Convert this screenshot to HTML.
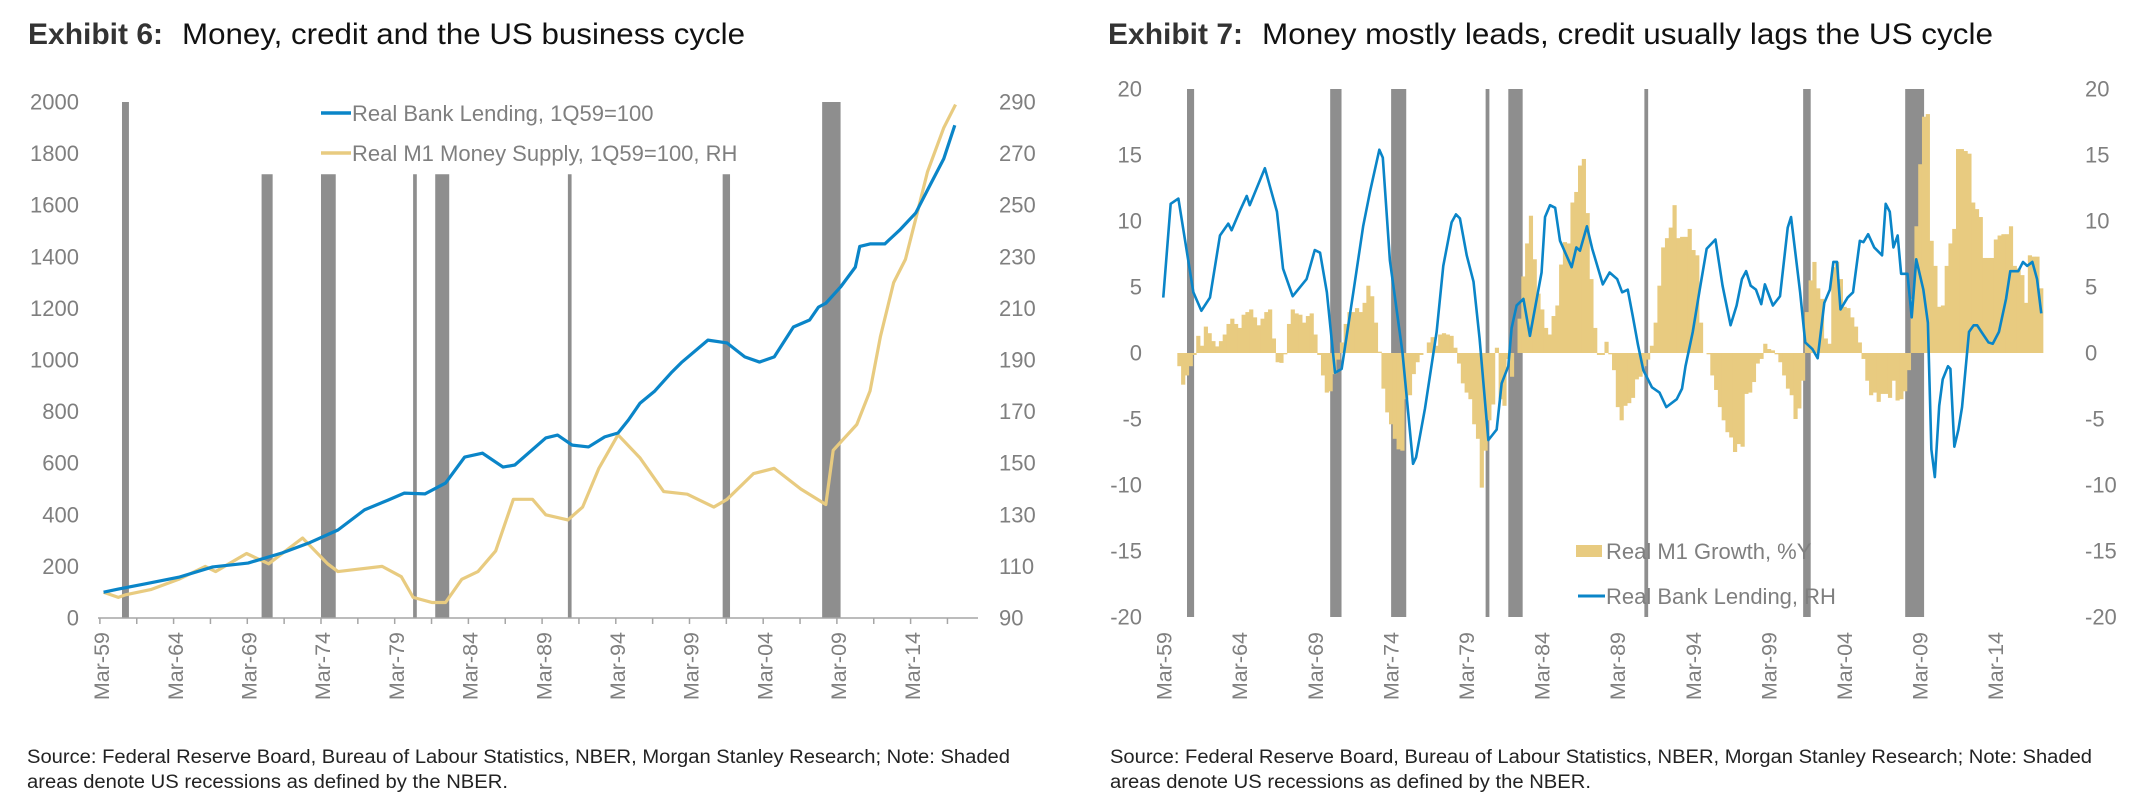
<!DOCTYPE html>
<html><head><meta charset="utf-8"><style>
html,body{margin:0;padding:0;background:#fff;}
svg{display:block;font-family:"Liberation Sans",sans-serif;}
.tk{fill:#7f7f7f;font-size:22px;}
.xl{fill:#7f7f7f;font-size:21.5px;}
.lg{fill:#7f7f7f;font-size:22px;}
.src{fill:#222;font-size:19px;}
</style></head><body>
<svg id="root" width="2132" height="806" viewBox="0 0 2132 806">
<g>
<text x="28" y="44" font-size="30" font-weight="bold" fill="#333" textLength="135" lengthAdjust="spacingAndGlyphs">Exhibit 6:</text>
<text x="182" y="44" font-size="30" fill="#111" textLength="563" lengthAdjust="spacingAndGlyphs">Money, credit and the US business cycle</text>
</g>
<g>
<text x="1108" y="44" font-size="30" font-weight="bold" fill="#333" textLength="135" lengthAdjust="spacingAndGlyphs">Exhibit 7:</text>
<text x="1262" y="44" font-size="30" fill="#111" textLength="731" lengthAdjust="spacingAndGlyphs">Money mostly leads, credit usually lags the US cycle</text>
</g>
<g id="c1"></g>
<g id="c2"></g>
<g>
<text class="src" x="27" y="763" textLength="983" lengthAdjust="spacingAndGlyphs">Source: Federal Reserve Board, Bureau of Labour Statistics, NBER, Morgan Stanley Research; Note: Shaded</text>
<text class="src" x="27" y="788" textLength="481" lengthAdjust="spacingAndGlyphs">areas denote US recessions as defined by the NBER.</text>
</g>
<g>
<text class="src" x="1110" y="763" textLength="982" lengthAdjust="spacingAndGlyphs">Source: Federal Reserve Board, Bureau of Labour Statistics, NBER, Morgan Stanley Research; Note: Shaded</text>
<text class="src" x="1110" y="788" textLength="481" lengthAdjust="spacingAndGlyphs">areas denote US recessions as defined by the NBER.</text>
</g>
</svg>
<script>
// ---- shared data ----
const recStart = [1960.25,1969.72,1973.75,1980.0,1981.5,1990.5,2001.0,2007.75];
const recEnd   = [1960.72,1970.47,1974.75,1980.25,1982.45,1990.75,2001.5,2009.0];
const rec1Top  = [2000,1720,1720,1720,1720,1720,1720,2000];
const xLabels  = ["Mar-59","Mar-64","Mar-69","Mar-74","Mar-79","Mar-84","Mar-89","Mar-94","Mar-99","Mar-04","Mar-09","Mar-14"];
const xLabelYears = [1959,1964,1969,1974,1979,1984,1989,1994,1999,2004,2009,2014];
// ---- chart 1 data ----
const lendYears = [1959,1960,1961.8,1964.1,1966.4,1968.8,1971.1,1972.9,1974.9,1976.7,1978.3,1979.4,1980.8,1982.2,1983.5,1984.7,1986.1,1986.9,1989,1989.8,1990.8,1991.9,1993,1993.9,1994.6,1995.4,1996.4,1997.5,1998.2,2000,2001.3,2002.5,2003.5,2004.5,2005.8,2006.9,2007.5,2008,2009,2010,2010.3,2011,2012,2013,2014.1,2015,2016,2016.75];
const lendVals  = [100,112,132,158,198,213,252,290,341,419,457,484,481,523,624,639,585,593,698,709,670,663,702,717,767,833,880,950,990,1077,1066,1012,992,1012,1128,1155,1205,1220,1283,1360,1440,1450,1450,1503,1570,1670,1780,1910];
const m1Years = [1959,1960,1960.5,1962.2,1964.1,1965.9,1966.6,1968.7,1970.2,1972.5,1974.2,1974.9,1977.9,1979.2,1980,1981.3,1982.2,1983.3,1984.4,1985.6,1986.8,1988.1,1989,1990.5,1991.5,1992.6,1993.9,1995.4,1997,1998.6,2000.4,2001.3,2003.1,2004.5,2006.3,2008,2008.5,2010.1,2011,2011.7,2012.6,2013.4,2014.2,2014.9,2016,2016.8];
const m1Vals  = [100,98,99,101,105,110,108,115,111,121,111,108,110,106,98,96,96,105,108,116,136,136,130,128,133,148,161,152,139,138,133,136,146,148,140,134,155,165,178,199,220,229,247,263,280,289];
const leftTicks1 = [0,200,400,600,800,1000,1200,1400,1600,1800,2000];
const rightTicks1 = [90,110,130,150,170,190,210,230,250,270,290];
// ---- chart 2 data ----
const growthStart = 1959.61;
const growthVals = [-1.0,-2.4,-1.7,-1.0,-0.15,1.3,0.55,2.0,1.5,0.9,0.5,0.9,1.4,2.2,2.6,2.2,1.9,2.9,3.1,3.3,2.7,2.1,2.6,3.1,3.3,1.1,-0.7,-0.75,-0.1,2.2,3.3,3.0,2.9,2.3,2.8,3.0,1.4,-0.15,-1.7,-3.0,-2.9,-1.6,-0.5,0.8,2.2,3.1,3.1,3.4,3.1,3.8,5.1,4.3,2.3,0.1,-2.7,-4.5,-5.4,-6.5,-7.3,-7.4,-3.5,-3.2,-1.6,-0.7,-0.15,0,0.8,1.2,0.55,1.4,1.5,1.4,1.3,0.4,-0.8,-2.3,-3.0,-3.5,-5.4,-6.5,-10.2,-7.4,-5.1,-3.9,0.4,-3.5,-4.0,-0.45,-1.8,0,2.6,5.8,8.3,10.4,7.1,4.5,3.3,1.9,1.4,2.8,3.6,6.7,8.4,8.3,11.4,12.2,14.2,14.7,10.6,5.6,1.9,
-0.15,-0.15,0.85,-0.1,-1.3,-4.1,-5.1,-4.0,-3.8,-3.4,-2.0,-1.8,-1.0,-0.5,0.55,2.3,5.1,8.0,8.7,9.5,11.2,8.7,8.8,8.8,9.4,7.8,7.4,2.3,0,-0.1,-1.7,-2.8,-4.1,-5.1,-6.0,-6.4,-7.5,-6.9,-7.1,-3.1,-3.0,-2.2,-0.8,-0.45,0.7,0.3,0.2,-0.1,-0.7,-1.7,-2.7,-3.2,-5.0,-4.2,-2.1,3.1,5.5,6.9,4.9,4.1,1.1,0.7,6.5,6.9,5.6,3.5,3.4,2.7,2.0,0.8,-0.45,-2.1,-3.2,-3.0,-3.7,-3.1,-3.1,-3.4,-2.1,-3.6,-3.5,-2.9,-1.3,4.1,9.6,14.3,17.9,18.1,8.5,6.6,3.5,3.6,6.6,8.3,9.4,15.45,15.45,15.3,15.1,11.4,10.9,10.3,7.2,7.2,7.2,8.6,8.9,9.0,9.0,9.6,6.6,6.4,5.9,3.8,7.4,7.3,7.3,4.9];
const bankYears = [1958.68,1959.17,1959.68,1960.67,1961.2,1961.77,1962.43,1962.98,1963.2,1963.76,1964.2,1964.4,1965.4,1966.2,1966.6,1967.24,1968.16,1968.7,1969.05,1969.5,1970.04,1970.48,1971.25,1971.9,1972.35,1972.97,1973.2,1973.67,1974.5,1975.2,1975.4,1975.99,1976.76,1977.2,1977.75,1978.04,1978.3,1978.75,1979.2,1979.6,1980.18,1980.73,1981.06,1981.5,1981.72,1982.05,1982.5,1982.93,1983.7,1983.93,1984.26,1984.6,1984.92,1985.69,1986.0,
1986.24,1986.7,1987.05,1987.75,1988.2,1988.7,1989.03,1989.4,1989.73,1990.08,1990.43,1991.0,1991.5,1991.95,1992.64,1992.99,1993.22,1993.7,1994.16,1994.62,1995.2,1995.67,1996.2,1996.6,1996.95,1997.23,1997.53,1997.88,1998.23,1998.47,1999.0,1999.47,1999.98,2000.2,2000.8,2001.14,2001.61,2001.96,2002.4,2002.77,2003.0,2003.24,2003.47,2003.94,2004.3,2004.75,2004.99,2005.3,2005.7,2006.22,2006.46,2006.73,2006.97,2007.25,2007.48,2007.9,2008.18,2008.48,2008.95,2009.25,2009.48,2009.71,2010.0,2010.23,2010.58,2010.74,2011.0,2011.27,2011.51,2011.97,2012.28,2012.51,2012.79,2013.26,2013.54,2013.95,2014.42,2014.7,2015.23,2015.54,2015.82,2016.16,2016.47,2016.75];
const bankVals = [4.2,11.3,11.7,4.6,3.2,4.2,8.9,9.8,9.3,10.8,11.9,11.2,14.0,10.7,6.4,4.3,5.6,7.8,7.6,4.6,-1.5,-1.2,4.6,9.6,12.2,15.4,14.8,7.0,0.05,-8.4,-7.9,-4.2,1.6,6.6,9.9,10.5,10.2,7.4,5.4,1.1,-6.6,-5.8,-2.3,-1.0,1.9,3.6,4.1,1.3,6.1,10.3,11.2,11.0,8.5,6.5,8.0,
7.75,9.6,7.9,5.2,6.1,5.6,4.6,4.8,2.8,0.6,-1.3,-2.6,-3.0,-4.1,-3.5,-2.7,-1.0,1.6,4.8,7.9,8.6,5.1,2.1,3.6,5.6,6.2,5.1,4.8,3.7,5.2,3.6,4.3,9.5,10.3,4.6,0.8,0.3,-0.4,3.8,4.8,6.9,6.9,3.3,4.2,4.6,8.5,8.4,9.0,8.0,7.4,11.3,10.7,8.0,8.9,6.0,6.0,2.7,7.1,4.8,2.3,-7.3,-9.4,-4.0,-2.0,-1.0,-1.2,-7.1,-5.8,-4.1,1.6,2.1,2.1,1.6,0.8,0.7,1.6,4.1,6.2,6.2,6.9,6.6,6.9,5.6,3.0];
const ticks2 = [20,15,10,5,0,-5,-10,-15,-20];

const NS="http://www.w3.org/2000/svg";
function mk(parent,tag,attrs,text){const e=document.createElementNS(NS,tag);for(const k in attrs)e.setAttribute(k,attrs[k]);if(text!==undefined)e.textContent=text;parent.appendChild(e);return e;}

// ---------- Chart 1 ----------
const c1=document.getElementById('c1');
const x1=y=>122+(y-1960.25)*14.74;
const yL=v=>618-v*0.258;
const yR=v=>618-(v-90)*2.58;
recStart.forEach((s,i)=>{
  const r=mk(c1,'rect',{x:x1(s),y:yL(rec1Top[i]),width:x1(recEnd[i])-x1(s),height:yL(0)-yL(rec1Top[i]),fill:'#8e8e8e'});
  
  
});
const ax1=mk(c1,'line',{x1:98,x2:978,y1:618,y2:618,stroke:'#a6a6a6','stroke-width':1.5});


for(let t=1958.75;t<=2018.3;t+=2.5){
  const tk=mk(c1,'line',{x1:x1(t),x2:x1(t),y1:618,y2:624,stroke:'#a6a6a6','stroke-width':1.5});
  
  
}
leftTicks1.forEach(v=>{
  const t=mk(c1,'text',{class:'tk',x:79,y:yL(v),'text-anchor':'end','dominant-baseline':'central'},String(v));
  
  
});
rightTicks1.forEach(v=>{
  const t=mk(c1,'text',{class:'tk',x:999,y:yR(v),'dominant-baseline':'central'},String(v));
  
  
});
xLabels.forEach((l,i)=>{
  const cx=x1(xLabelYears[i])-2;
  const t=mk(c1,'text',{class:'xl',transform:`translate(${cx+7.5},632) rotate(-90)`,'text-anchor':'end'},l);
  
  
});
const m1Line=mk(c1,'polyline',{points:m1Years.map((y,i)=>x1(y)+','+yR(m1Vals[i])).join(' '),fill:'none',stroke:'#e8cb80','stroke-width':3.2,'stroke-linejoin':'round'});


const lendLine=mk(c1,'polyline',{points:lendYears.map((y,i)=>x1(y)+','+yL(lendVals[i])).join(' '),fill:'none',stroke:'#0a85c8','stroke-width':3.2,'stroke-linejoin':'round'});


const lg1=mk(c1,'g',{});


mk(lg1,'line',{x1:321,x2:351,y1:113,y2:113,stroke:'#0a85c8','stroke-width':3.5});
mk(lg1,'text',{class:'lg',x:352,y:121},'Real Bank Lending, 1Q59=100');
mk(lg1,'line',{x1:321,x2:351,y1:153,y2:153,stroke:'#e8cb80','stroke-width':3.5});
mk(lg1,'text',{class:'lg',x:352,y:161},'Real M1 Money Supply, 1Q59=100, RH');

// ---------- Chart 2 ----------
const c2=document.getElementById('c2');
const x2=y=>1187+(y-1960.25)*15.12;
const y2=v=>353-v*13.2;
recStart.forEach((s,i)=>{
  const r=mk(c2,'rect',{x:x2(s),y:y2(20),width:x2(recEnd[i])-x2(s),height:y2(-20)-y2(20),fill:'#8e8e8e'});
  
  
});
growthVals.forEach((v,i)=>{
  const yr=growthStart+i*0.25;
  const top=Math.min(y2(v),y2(0)), h=Math.abs(y2(v)-y2(0));
  const b=mk(c2,'rect',{x:x2(yr),y:top,width:15.12/4+0.4,height:h,fill:'#e8cb80'});
  
  
});
const bankLine=mk(c2,'polyline',{points:bankYears.map((y,i)=>x2(y)+','+y2(bankVals[i])).join(' '),fill:'none',stroke:'#0a85c8','stroke-width':2.6,'stroke-linejoin':'round'});


ticks2.forEach(v=>{
  const t=mk(c2,'text',{class:'tk',x:1142,y:y2(v),'text-anchor':'end','dominant-baseline':'central'},String(v));
  
  
  const r=mk(c2,'text',{class:'tk',x:2085,y:y2(v),'dominant-baseline':'central'},String(v));
  
  
});
xLabels.forEach((l,i)=>{
  const cx=x2(xLabelYears[i])-4;
  const t=mk(c2,'text',{class:'xl',transform:`translate(${cx+7.5},632) rotate(-90)`,'text-anchor':'end'},l);
  
  
});
const lg2=mk(c2,'g',{});


mk(lg2,'rect',{x:1576,y:545,width:26,height:12,fill:'#e8cb80'});
mk(lg2,'text',{class:'lg',x:1606,y:559},'Real M1 Growth, %Y');
mk(lg2,'line',{x1:1578,x2:1605,y1:596,y2:596,stroke:'#0a85c8','stroke-width':3});
mk(lg2,'text',{class:'lg',x:1606,y:604},'Real Bank Lending, RH');
</script>
</body></html>
